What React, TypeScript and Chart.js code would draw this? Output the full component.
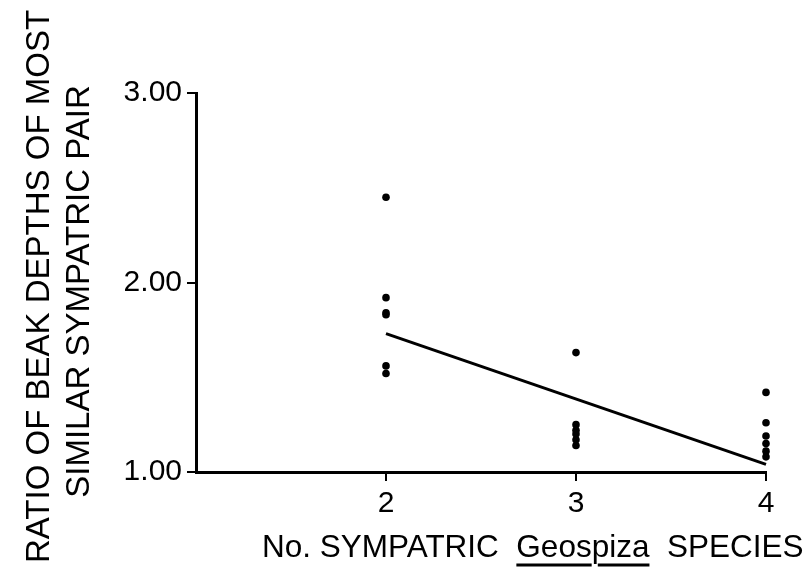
import React, { useEffect, useRef } from "react";
import { Chart, registerables } from "chart.js";

Chart.register(...registerables);

// Number of sympatric Geospiza species on an island
const SPECIES_COUNTS = [2, 3, 4];

// Ratio of beak depths of the most similar sympatric pair, per island
const RATIOS_TWO = [2.45, 1.92, 1.84, 1.83, 1.56, 1.52];
const RATIOS_THREE = [1.63, 1.25, 1.22, 1.2, 1.17, 1.14];
const RATIOS_FOUR = [1.42, 1.26, 1.19, 1.15, 1.11, 1.08];

// Fitted regression line, evaluated at the ends of the range
const FIT_X = [2, 4];
const FIT_Y = [1.73, 1.04];

const Y_TICKS = [1, 2, 3];
const Y_TITLE = ["RATIO OF BEAK DEPTHS OF MOST", "SIMILAR SYMPATRIC PAIR"];
const X_TITLE_PARTS = ["No. SYMPATRIC  ", "Geospiza", "  SPECIES"];

const FONT = "'Liberation Sans', Arial, sans-serif";

const axisTitles = {
  id: "axisTitles",
  afterDraw(chart: any) {
    const { ctx, chartArea } = chart;
    ctx.save();
    ctx.fillStyle = "#000";
    ctx.strokeStyle = "#000";

    // Vertical title, two lines reading bottom to top
    ctx.font = `33px ${FONT}`;
    ctx.textAlign = "center";
    ctx.textBaseline = "alphabetic";
    const yMid = (chartArea.top + chartArea.bottom) / 2;
    const baselines = [chartArea.left - 147, chartArea.left - 107];
    Y_TITLE.forEach((line, i) => {
      ctx.save();
      ctx.translate(baselines[i], yMid + 4 + i * 5);
      ctx.rotate(-Math.PI / 2);
      ctx.fillText(line, 0, 0);
      ctx.restore();
    });

    // Horizontal title with the genus name underlined
    ctx.font = `31.5px ${FONT}`;
    ctx.textAlign = "left";
    const baseY = chartArea.bottom + 85;
    let x = chartArea.left + 66;
    X_TITLE_PARTS.forEach((part, i) => {
      ctx.fillText(part, x, baseY);
      const w = ctx.measureText(part).width;
      if (i === 1) {
        const pStart = x + ctx.measureText("Geos").width;
        const pStem = ctx.measureText("p").width * 0.35;
        ctx.lineWidth = 3;
        ctx.beginPath();
        ctx.moveTo(x, baseY + 8);
        ctx.lineTo(pStart, baseY + 8);
        ctx.moveTo(pStart + pStem, baseY + 8);
        ctx.lineTo(x + w, baseY + 8);
        ctx.stroke();
      }
      x += w;
    });
    ctx.restore();
  },
};

export default function App() {
  const canvasRef = useRef<HTMLCanvasElement | null>(null);

  useEffect(() => {
    const canvas = canvasRef.current;
    if (!canvas) return;

    const points = [
      ...RATIOS_TWO.map((y) => ({ x: SPECIES_COUNTS[0], y })),
      ...RATIOS_THREE.map((y) => ({ x: SPECIES_COUNTS[1], y })),
      ...RATIOS_FOUR.map((y) => ({ x: SPECIES_COUNTS[2], y })),
    ];
    const fit = FIT_X.map((x, i) => ({ x, y: FIT_Y[i] }));

    const hideAtOrigin = (c: any) =>
      c.tick && c.tick.value === 1 ? "rgba(0,0,0,0)" : "#000";

    const chart = new Chart(canvas, {
      type: "scatter",
      data: {
        datasets: [
          {
            type: "scatter",
            data: points,
            backgroundColor: "#000",
            borderColor: "#000",
            pointStyle: "circle",
            pointRadius: 3.8,
            borderWidth: 0,
            clip: false,
          } as any,
          {
            type: "line",
            data: fit,
            borderColor: "#000",
            borderWidth: 3,
            pointRadius: 0,
            fill: false,
            clip: false,
          } as any,
        ],
      },
      options: {
        animation: false,
        responsive: false,
        events: [],
        layout: { padding: { left: 0, top: 93, right: 38, bottom: 0 } },
        plugins: {
          legend: { display: false },
          tooltip: { enabled: false },
          title: { display: false },
        },
        scales: {
          x: {
            type: "linear",
            min: 1,
            max: 4,
            afterFit: (s: any) => {
              s.height = 97;
            },
            ticks: {
              stepSize: 1,
              padding: 5,
              color: "#000",
              font: { family: FONT, size: 30 },
              callback: (v: any) => (v === 1 ? "" : String(v)),
            },
            grid: {
              drawOnChartArea: false,
              drawTicks: true,
              tickLength: 9,
              lineWidth: 2,
              color: hideAtOrigin,
            },
            border: { display: true, color: "#000", width: 3 },
          },
          y: {
            type: "linear",
            min: 1,
            max: 3,
            afterFit: (s: any) => {
              s.width = 196;
            },
            afterBuildTicks: (s: any) => {
              s.ticks = Y_TICKS.map((value) => ({ value }));
            },
            ticks: {
              padding: 5,
              color: "#000",
              font: { family: FONT, size: 30 },
              callback: (v: any) => Number(v).toFixed(2),
            },
            grid: {
              drawOnChartArea: false,
              drawTicks: true,
              tickLength: 9,
              lineWidth: 2,
              color: "#000",
            },
            border: { display: true, color: "#000", width: 3 },
          },
        },
      },
      plugins: [axisTitles],
    });

    return () => chart.destroy();
  }, []);

  return (
    <div
      style={{
        position: "fixed",
        left: 0,
        top: 0,
        width: 804,
        height: 569,
        background: "#fff",
      }}
    >
      <canvas ref={canvasRef} width={804} height={569} />
    </div>
  );
}
